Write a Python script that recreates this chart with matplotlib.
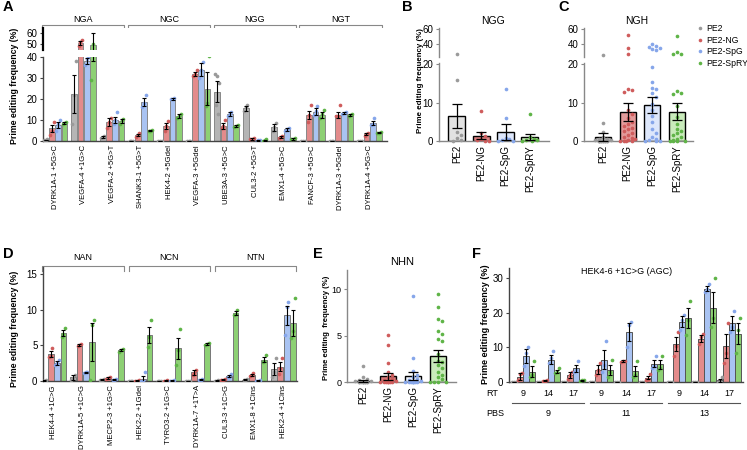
import numpy as np
import matplotlib.pyplot as plt
from matplotlib import transforms
from matplotlib.lines import Line2D

plt.rcParams['font.family'] = ['Liberation Sans', 'DejaVu Sans']

W, H = 747, 450
fig = plt.figure(figsize=(W / 100, H / 100), dpi=100)

editors = ['PE2', 'PE2-NG', 'PE2-SpG', 'PE2-SpRY']
bar_cols = ['#b5b5b5', '#e38b8b', '#a9c3f2', '#8dd074']
dot_cols = ['#9a9a9a', '#cf5c5c', '#86a6ea', '#5fb447']

# ---------------- panel A data ----------------
a_targets = ['DYRK1A-1 +5G>C', 'VEGFA-4 +1G>C', 'VEGFA-2 +5G>T', 'SHANK3-1 +5G>T',
             'HEK4-2 +5Gdel', 'VEGFA-3 +5Gdel', 'UBE3A-3 +5G>C', 'CUL3-2 +5G>T',
             'EMX1-4 +5G>C', 'FANCF-3 +5G>C', 'DYRK1A-3 +5Gdel', 'DYRK1A-4 +5G>C']
a_pams = ['NGA', 'NGC', 'NGG', 'NGT']
a_mean_pe2 = [0.5, 22.5, 2.0, 0.0, 0.0, 0.0, 23.5, 15.5, 6.5, 0.0, 0.0, 0.0]
a_sem_pe2 = [0.2, 9.0, 0.5, 0.1, 0.1, 0.1, 5.0, 1.0, 1.5, 0.1, 0.1, 0.1]
a_mean_ng = [6.0, 51.0, 9.0, 3.0, 7.0, 32.0, 7.0, 1.0, 2.0, 12.5, 12.5, 3.5]
a_sem_ng = [1.5, 2.0, 2.0, 0.5, 1.5, 1.0, 1.5, 0.3, 0.5, 2.0, 1.5, 0.5]
a_mean_spg = [7.5, 38.0, 10.0, 18.5, 20.0, 34.0, 13.0, 0.3, 5.5, 14.0, 13.5, 8.5]
a_sem_spg = [1.5, 1.5, 1.5, 2.0, 0.3, 3.0, 1.0, 0.2, 0.5, 1.5, 0.5, 1.0]
a_mean_spry = [8.5, 49.0, 9.5, 5.0, 12.0, 25.0, 7.0, 0.3, 1.0, 12.5, 12.5, 4.0]
a_sem_spry = [0.5, 11.0, 1.0, 0.3, 1.0, 8.0, 0.5, 0.2, 0.3, 1.5, 0.5, 0.3]
a_dots_pe2 = [[0.3, 0.5, 0.8], [8, 22, 38], [1.5, 2, 2.6], [0, 0, 0], [0, 0, 0], [0, 0, 0],
              [32, 31, 27.5, 17, 13], [14.5, 16, 17], [5, 6.5, 8.5], [0, 0, 0], [0, 0, 0], [0, 0, 0]]
a_dots_ng = [[3, 5, 9], [48, 52, 54], [6, 9, 11], [2, 3, 4], [5, 7, 9.5], [31, 32, 34],
             [6, 7, 10], [0.8, 1, 1.3], [1.5, 2, 2.5], [9, 12.5, 17], [12, 12, 17], [2.5, 3.5, 4]]
a_dots_spg = [[5, 8, 10], [36, 39, 40], [8, 10, 14], [16, 18, 22], [20, 20, 20.5], [30, 34, 37.5],
              [12, 13.5, 14], [0.1, 0.3, 0.5], [5, 5.5, 6], [12.5, 14.5, 16.5], [13, 13.5, 14], [7.5, 8, 11]]
a_dots_spry = [[8, 8.5, 9], [29, 50, 68], [8, 10, 10.5], [4.7, 5, 5.3], [11, 12, 13], [16.5, 18, 40.5],
               [6.5, 7, 7.5], [0, 0.3, 1], [0.8, 1, 1.5], [11, 13, 15], [12, 12.5, 13], [3.8, 4, 4.3]]

# ---------------- panel B / C / E data ----------------
b_mean = [6.5, 1.4, 2.3, 1.1]
b_sem = [3.2, 1.0, 2.0, 0.8]
b_dots_pe2 = [27, 16, 2.4, 1.6, 0.8, 0.2, 0.0]
b_dots_ng = [7.8, 2.0, 1.2, 0.6, 0.3, 0.1, 0.0]
b_dots_spg = [13.5, 6.0, 0.8, 0.4, 0.2, 0.1, 0.0]
b_dots_spry = [7.0, 1.0, 0.6, 0.3, 0.2, 0.0, 0.0]

c_mean = [1.0, 7.5, 9.4, 7.6]
c_sem = [1.0, 2.4, 2.1, 2.2]
c_dots_pe2 = [25.5, 4.6, 2.3, 1.0, 0.6, 0.4, 0.3, 0.2, 0.2, 0.1, 0.1,
              0.0, 0.0, 0.0, 0.0, 0.0, 0.0, 0.0, 0.0, 0.0]
c_dots_ng = [52, 34.5, 26.5, 13.5, 13.2, 12.8, 8.0, 7.0, 6.0, 5.0, 4.5, 4.0, 3.5,
             3.0, 2.5, 2.0, 1.5, 1.0, 0.8, 0.5, 0.3, 0.1, 0.0, 0.0, 0.0]
c_dots_spg = [40, 38, 36.5, 35, 33.5, 32, 19.2, 15.3, 13.8, 13.5, 12.5, 11.5, 9.5,
              8.0, 6.5, 5.0, 3.0, 2.0, 1.0, 0.5, 0.2, 0.0, 0.0, 0.0]
c_dots_spry = [50.5, 29.5, 27, 26.3, 13.0, 12.5, 12.2, 9.0, 6.2, 4.5, 3.2, 2.5,
               2.0, 1.5, 1.0, 0.5, 0.2, 0.0, 0.0, 0.0, 0.0]

e_mean = [0.15, 0.6, 0.65, 2.85]
e_sem = [0.1, 0.35, 0.45, 0.65]
e_dots_pe2 = [1.7, 0.5, 0.3, 0.2, 0.1, 0.1, 0.05, 0.0, 0.0, 0.0, 0.0, 0.0, 0.0, 0.0, 0.0, 0.0]
e_dots_ng = [5.1, 4.0, 2.0, 1.1, 0.8, 0.5, 0.3, 0.2, 0.1, 0.05, 0.0, 0.0, 0.0, 0.0, 0.0, 0.0]
e_dots_spg = [9.3, 2.6, 1.2, 0.8, 0.5, 0.3, 0.2, 0.1, 0.05, 0.0, 0.0, 0.0, 0.0, 0.0, 0.0, 0.0]
e_dots_spry = [9.5, 8.1, 6.8, 6.6, 5.5, 5.2, 4.6, 4.4, 3.0, 2.3, 2.2, 1.8, 1.5, 1.1,
               0.8, 0.5, 0.3, 0.0, 0.0, 0.0, 0.0]

# ---------------- panel D data ----------------
d_targets = ['HEK4-4 +1C>G', 'DYRK1A-5 +1C>G', 'MECP2-3 +1G>C', 'HEK2-2 +1Gdel',
             'TYRO3-2 +1G>C', 'DYRK1A-7 +1T>A', 'CUL3-3 +1C>G', 'EMX1-8 +1Cins', 'HEK2-4 +1Cins']
d_pams = ['NAN', 'NCN', 'NTN']
d_mean_pe2 = [0.05, 0.5, 0.2, 0.0, 0.0, 0.0, 0.05, 0.2, 1.7]
d_sem_pe2 = [0.05, 0.3, 0.05, 0.0, 0.0, 0.0, 0.05, 0.1, 0.8]
d_mean_ng = [3.8, 5.0, 0.45, 0.05, 0.05, 1.2, 0.2, 0.9, 2.0]
d_sem_ng = [0.4, 0.15, 0.1, 0.05, 0.05, 0.3, 0.1, 0.15, 0.6]
d_mean_spg = [2.5, 1.2, 0.2, 0.3, 0.05, 0.2, 0.7, 0.05, 9.2]
d_sem_spg = [0.3, 0.1, 0.1, 0.4, 0.05, 0.1, 0.2, 0.05, 1.3]
d_mean_spry = [6.7, 5.5, 4.3, 6.5, 4.6, 5.2, 9.5, 3.0, 8.1]
d_sem_spry = [0.4, 2.7, 0.15, 1.1, 1.5, 0.2, 0.3, 0.3, 1.8]
d_dots_pe2 = [[0, 0.05, 0.1], [0.2, 0.4, 0.9], [0.1, 0.2, 0.3], [0, 0, 0], [0, 0, 0], [0, 0, 0],
              [0, 0.05, 0.1], [0.1, 0.2, 0.3], [0.6, 1.3, 3.2]]
d_dots_ng = [[3.4, 3.5, 4.6], [4.9, 5.0, 5.2], [0.3, 0.45, 0.6], [0, 0, 0.1], [0, 0, 0.1],
             [0.9, 1.1, 1.6], [0.1, 0.2, 0.3], [0.7, 0.9, 1.1], [1.0, 1.8, 3.2]]
d_dots_spg = [[2.2, 2.5, 3.0], [1.1, 1.2, 1.3], [0.1, 0.2, 0.3], [0, 0, 1.2], [0, 0, 0.1],
              [0.1, 0.2, 0.3], [0.5, 0.6, 1.0], [0, 0, 0.1], [6.5, 10.4, 11.1]]
d_dots_spry = [[6.2, 6.6, 7.4], [0.1, 7.8, 8.6], [4.1, 4.3, 4.5], [4.8, 6.2, 8.5], [2.3, 4.3, 7.3],
               [5.0, 5.2, 5.4], [9.2, 9.4, 10.0], [2.7, 2.8, 3.6], [6.0, 7.0, 11.6]]

# ---------------- panel F data ----------------
f_rt = ['9', '14', '17', '9', '14', '17', '9', '14', '17']
f_pbs = ['9', '11', '13']
f_mean_pe2 = [0.0, 0.0, 0.0, 0.0, 0.0, 0.0, 0.0, 0.0, 0.5]
f_sem_pe2 = [0.05, 0.05, 0.05, 0.05, 0.05, 0.05, 0.05, 0.05, 0.5]
f_mean_ng = [1.5, 0.4, 2.0, 3.5, 6.0, 1.3, 11.0, 12.5, 10.5]
f_sem_ng = [1.0, 0.2, 0.8, 1.3, 0.3, 0.5, 2.0, 1.0, 3.5]
f_mean_spg = [7.5, 6.5, 4.0, 6.5, 14.5, 5.3, 17.5, 27.0, 17.0]
f_sem_spg = [2.0, 1.3, 1.0, 2.8, 2.5, 1.0, 1.5, 0.8, 2.0]
f_mean_spry = [3.0, 3.0, 0.5, 3.5, 3.2, 5.2, 18.5, 21.5, 14.0]
f_sem_spry = [1.5, 0.5, 0.2, 1.5, 1.5, 1.3, 3.0, 4.5, 3.0]
f_dots_pe2 = [[0, 0, 0]] * 8 + [[0, 0, 1.5]]
f_dots_ng = [[0.5, 2.3, 2.5], [0.2, 0.4, 0.6], [1, 2, 3], [2, 3.5, 5.5], [5.8, 6, 6.2], [0.7, 1, 2.3],
             [7.5, 10.5, 14.5], [11, 13, 14], [5.5, 8.5, 17]]
f_dots_spg = [[4.5, 8.5, 10], [5.5, 7, 9], [3, 3.5, 6], [3, 5, 12], [10, 16.5, 17.5], [4, 4.5, 7.5],
              [15, 18, 19.5], [26, 27, 28.5], [14.5, 16, 20.5]]
f_dots_spry = [[1.5, 2, 6], [2.5, 3, 4], [0.3, 0.5, 0.7], [1.5, 3, 6.5], [1.5, 2, 6], [3.5, 4, 7.5],
               [13.5, 18, 23.5], [16, 18.5, 30], [8.5, 15, 18.5]]


def add_ax(l, t, r, b):
    return fig.add_axes([l / W, 1 - b / H, (r - l) / W, (b - t) / H])


def fy(y):
    return 1 - y / H


def style(ax, col='#555', ysize=7):
    for s in ['top', 'right']:
        ax.spines[s].set_visible(False)
    ax.spines['left'].set_color(col)
    ax.spines['bottom'].set_color(col)
    ax.spines['left'].set_linewidth(1.0)
    ax.spines['bottom'].set_linewidth(1.0)
    ax.tick_params(axis='y', length=2.5, width=0.8, color=col, labelsize=ysize, pad=1.5)
    ax.tick_params(axis='x', length=0, pad=3)


def grouped(ax, pos, means, sems, dots, spacing, width, edge, cap):
    jit = [-0.3, 0.0, 0.3, -0.15, 0.15]
    for j in range(4):
        xs = pos + (j - 1.5) * spacing
        ax.bar(xs, means[j], width, color=bar_cols[j], edgecolor=edge, linewidth=0.7, zorder=2)
        for i, d in enumerate(dots[j]):
            ox = [xs[i] + jit[k % 5] * width for k in range(len(d))]
            ax.scatter(ox, d, s=7, color=dot_cols[j], zorder=3, linewidths=0)
        ax.errorbar(xs, means[j], yerr=sems[j], fmt='none', ecolor='black',
                    elinewidth=0.8, capsize=cap, capthick=0.8, zorder=4)


def swarm(vals, ypx, ysize=4.5, xstep=3.8, maxn=2):
    # simple beeswarm: push a dot sideways while it touches one already placed
    offs, pts = [], []
    cands = [0]
    for k in range(1, maxn + 1):
        cands += [k, -k]
    for v in vals:
        y = ypx(v)
        chosen = None
        for c in cands:
            if all(not (abs(py - y) < ysize and pc == c) for py, pc in pts):
                chosen = c
                break
        if chosen is None:
            chosen = cands[len(pts) % len(cands)] * 0.5
        pts.append((y, chosen))
        offs.append(chosen * xstep)
    return np.array(offs)


def single(axes, ylims, means, sems, dots, fills, ypx, xpx, width):
    x = np.arange(4)
    for ax, yl in zip(axes, ylims):
        ax.set_ylim(*yl)
        ax.bar(x, means, width, color=fills, edgecolor='black', linewidth=1.0, zorder=2)
        for j in range(4):
            vals = np.array(dots[j], dtype=float)
            offs = swarm(vals, ypx) / xpx
            keep = (vals >= yl[0] - 0.01) & (vals <= yl[1])
            ax.scatter(x[j] + offs[keep], vals[keep], s=7, color=dot_cols[j], zorder=3,
                       linewidths=0, clip_on=False)
        ax.errorbar(x, means, yerr=sems, fmt='none', ecolor='black',
                    elinewidth=0.9, capsize=3.5, capthick=0.9, zorder=4)


def bracket(ax, x0, x1, ytop, label, ylab):
    tr = transforms.blended_transform_factory(ax.transData, fig.transFigure)
    ax.plot([x0, x0, x1, x1], [fy(ytop + 5), fy(ytop), fy(ytop), fy(ytop + 5)],
            transform=tr, color='#888', lw=0.8, clip_on=False)
    ax.text((x0 + x1) / 2, fy(ylab), label, transform=tr, ha='center', va='center', fontsize=6.5)


ylab = 'Prime editing frequency (%)'

# ================= A =================
a_means = [a_mean_pe2, a_mean_ng, a_mean_spg, a_mean_spry]
a_sems = [a_sem_pe2, a_sem_ng, a_sem_spg, a_sem_spry]
a_dots = [a_dots_pe2, a_dots_ng, a_dots_spg, a_dots_spry]
a_pos = np.arange(len(a_targets))
axA = add_ax(43, 57, 387, 141)
axA2 = add_ax(43, 28, 387, 50)
for ax in (axA, axA2):
    grouped(ax, a_pos, a_means, a_sems, a_dots, 0.22, 0.2, '#888', 1.6)
    ax.set_xlim(-0.42, 11.61)
    style(ax, '#444')
axA.set_ylim(0, 40)
axA.set_yticks([0, 10, 20, 30, 40])
axA.set_xticks(a_pos)
axA.set_xticklabels(a_targets, rotation=90, fontsize=5.5)
axA2.set_ylim(44.5, 64.5)
axA2.set_yticks([50, 60])
axA2.spines['bottom'].set_visible(False)
axA2.spines['left'].set_color('black')
axA2.spines['left'].set_linewidth(1.6)
axA2.set_xticks([])
for k, p in enumerate(a_pams):
    bracket(axA, 3 * k - 0.45, 3 * k + 2.43, 25, p, 19)
fig.text(15 / W, fy(86), ylab, rotation=90, ha='center', va='center', fontsize=6.3, fontweight='bold')

# ================= B / C =================
def ypx_bc(v):
    return v * 3.85 if v < 21 else 84 + (v - 22.7) * 0.75


b_fills = ['#e2e2e2', '#dc8282', '#dde7fb', '#c9ebbb']
c_fills = ['#c4c4c4', '#e39a9a', '#dde7fb', '#c9ebbb']
panels = [(439, 549, (-0.74, 3.79), b_mean, b_sem, [b_dots_pe2, b_dots_ng, b_dots_spg, b_dots_spry],
           b_fills, 24.3, 0.7),
          (584, 693, (-0.77, 3.64), c_mean, c_sem, [c_dots_pe2, c_dots_ng, c_dots_spg, c_dots_spry],
           c_fills, 24.7, 0.65)]
for l, r, xl, m, s, d, fills, xpx, w in panels:
    lo = add_ax(l, 63, r, 141)
    up = add_ax(l, 28, r, 57)
    single([lo, up], [(0, 20.3), (22.7, 61.3)], m, s, d, fills, ypx_bc, xpx, w)
    for ax in (lo, up):
        ax.set_xlim(*xl)
        style(ax, '#888')
    lo.set_yticks([0, 10, 20])
    lo.set_xticks(np.arange(4))
    lo.set_xticklabels(editors, rotation=90, fontsize=7)
    up.set_yticks([40, 60])
    up.spines['bottom'].set_visible(False)
    up.set_xticks([])
fig.text(493 / W, fy(21), 'NGG', ha='center', va='center', fontsize=7.5)
fig.text(637 / W, fy(21), 'NGH', ha='center', va='center', fontsize=7.5)
fig.text(420 / W, fy(81), ylab, rotation=90, ha='center', va='center', fontsize=5.7, fontweight='bold')

handles = [Line2D([], [], marker='o', ls='none', ms=2.6, color=c, mec='none') for c in dot_cols]
fig.legend(handles, editors, loc='upper left', bbox_to_anchor=(697 / W, fy(24)), frameon=False,
           fontsize=6.2, handlelength=0.7, handletextpad=0.4, labelspacing=0.3, borderpad=0,
           borderaxespad=0)

# ================= D =================
d_means = [d_mean_pe2, d_mean_ng, d_mean_spg, d_mean_spry]
d_sems = [d_sem_pe2, d_sem_ng, d_sem_spg, d_sem_spry]
d_dots = [d_dots_pe2, d_dots_ng, d_dots_spg, d_dots_spry]
d_pos = np.arange(len(d_targets))
axD = add_ax(43, 267, 297, 381)
grouped(axD, d_pos, d_means, d_sems, d_dots, 0.22, 0.2, '#777', 1.6)
style(axD, '#444')
axD.set_xlim(-0.38, 8.47)
axD.set_ylim(0, 16)
axD.set_yticks([0, 5, 10, 15])
axD.set_xticks(d_pos)
axD.set_xticklabels(d_targets, rotation=90, fontsize=5.5)
for k, p in enumerate(d_pams):
    bracket(axD, 3 * k - 0.4, 3 * k + 2.44, 266, p, 258)
fig.text(15 / W, fy(329), ylab, rotation=90, ha='center', va='center', fontsize=6.3, fontweight='bold')

# ================= E =================
axE = add_ax(347, 270, 456, 382)
e_fills = ['#c4c4c4', '#d87a7a', '#eef3fd', '#c9ebbb']
single([axE], [(0, 12.1)], e_mean, e_sem, [e_dots_pe2, e_dots_ng, e_dots_spg, e_dots_spry], e_fills,
       lambda v: v * 9.3, 25, 0.65)
style(axE, '#888', ysize=6.5)
axE.set_xlim(-0.64, 3.72)
axE.set_yticks([0, 5, 10])
axE.set_xticks(np.arange(4))
axE.set_xticklabels(editors, rotation=90, fontsize=7)
fig.text(402 / W, fy(262), 'NHN', ha='center', va='center', fontsize=8)
fig.text(327 / W, fy(328), 'Prime editing  frequency (%)', rotation=90, ha='center', va='center',
         fontsize=5.6, fontweight='bold')

# ================= F =================
f_means = [f_mean_pe2, f_mean_ng, f_mean_spg, f_mean_spry]
f_sems = [f_sem_pe2, f_sem_ng, f_sem_spg, f_sem_spry]
f_dots = [f_dots_pe2, f_dots_ng, f_dots_spg, f_dots_spry]
f_pos = np.arange(len(f_rt)) + 0.12 * (np.arange(len(f_rt)) // 3)
axF = add_ax(509, 268, 743, 382)
grouped(axF, f_pos, f_means, f_sems, f_dots, 0.24, 0.22, '#555', 1.6)
style(axF, '#444')
axF.set_xlim(-0.56, 8.8)
axF.set_ylim(0, 33)
axF.set_yticks([0, 10, 20, 30])
axF.set_xticks([])
fig.text(627 / W, fy(271), 'HEK4-6 +1C>G (AGC)', ha='center', va='center', fontsize=6.5)
trF = transforms.blended_transform_factory(axF.transData, fig.transFigure)
for p, t in zip(f_pos, f_rt):
    axF.text(p, fy(394), t, transform=trF, ha='center', va='center', fontsize=6.5)
for k, t in enumerate(f_pbs):
    x0, x1 = f_pos[3 * k] - 0.45, f_pos[3 * k + 2] + 0.45
    axF.plot([x0, x1], [fy(403), fy(403)], transform=trF, color='#555', lw=0.8, clip_on=False)
    axF.text((x0 + x1) / 2, fy(414), t, transform=trF, ha='center', va='center', fontsize=6.5)
fig.text(492 / W, fy(394), 'RT', ha='center', va='center', fontsize=6.5)
fig.text(495 / W, fy(414), 'PBS', ha='center', va='center', fontsize=6.5)
fig.text(485 / W, fy(324), ylab, rotation=90, ha='center', va='center', fontsize=6.5, fontweight='bold')

# panel letters
for lt, x, y in [('A', 8, 7), ('B', 407, 7), ('C', 564, 7), ('D', 8, 254), ('E', 318, 254), ('F', 476, 254)]:
    fig.text(x / W, fy(y), lt, ha='center', va='center', fontsize=10.5, fontweight='bold')

fig.savefig('out.png', dpi=100)
